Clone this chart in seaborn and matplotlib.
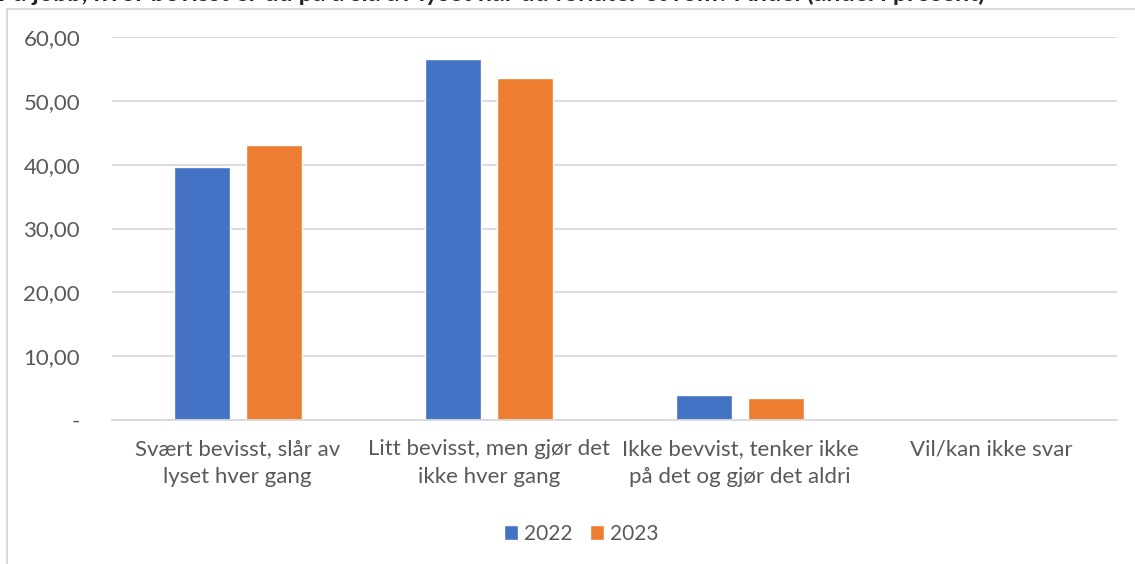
# andel som slår av lyset, 2022 mot 2023
import pandas as pd
import matplotlib.pyplot as plt
import matplotlib.ticker as mticker
from matplotlib.patches import Rectangle
import seaborn as sns

kategorier = [
    "Svært bevisst, slår av\nlyset hver gang",
    "Litt bevisst, men gjør det\nikke hver gang",
    "Ikke bevvist, tenker ikke\npå det og gjør det aldri",
    "Vil/kan ikke svar",
]
aar = ["2022", "2023"]
verdier_2022 = [39.6, 56.6, 3.9, 0.0]
verdier_2023 = [43.1, 53.5, 3.5, 0.0]
tittel = "På jobb, hvor bevisst er du på å slå av lyset når du forlater et rom? Andel (andel i prosent)"

df = pd.DataFrame({
    "kategori": kategorier * 2,
    "aar": [aar[0]] * 4 + [aar[1]] * 4,
    "andel": verdier_2022 + verdier_2023,
})

sns.set_theme(style="white")
plt.rcParams["font.family"] = ["Lato", "DejaVu Sans"]

fig = plt.figure(figsize=(11.35, 5.64), dpi=100)
ax = fig.add_axes([112 / 1135, 1 - 420 / 564, (1117 - 112) / 1135, (420 - 37) / 564])

sns.barplot(data=df, x="kategori", y="andel", hue="aar",
            palette=["#4472C4", "#ED7D31"], width=0.574, gap=0.222,
            saturation=1, ax=ax, legend=True)

ax.set_ylim(0, 60)
ax.set_xlim(-0.5, 3.5)
ax.set_yticks([0, 10, 20, 30, 40, 50, 60])
ax.yaxis.set_major_formatter(mticker.FuncFormatter(
    lambda v, p: "-" if v == 0 else f"{v:.2f}".replace(".", ",")))
ax.grid(axis="y", color="#d9d9d9", linewidth=1.3)
ax.set_axisbelow(True)
for s in ["top", "right", "left"]:
    ax.spines[s].set_visible(False)
ax.spines["bottom"].set_color("#d9d9d9")
ax.spines["bottom"].set_linewidth(1.3)
ax.tick_params(axis="y", length=0, pad=23, labelsize=16, labelcolor="#595959")
ax.tick_params(axis="x", length=0, pad=14, labelsize=16, labelcolor="#595959")
for t in ax.get_xticklabels():
    t.set_linespacing(1.45)
ax.set_xlabel("")
ax.set_ylabel("")

ax.legend(loc="center", bbox_to_anchor=(0.467, -0.297), ncol=2, frameon=False,
          fontsize=15, labelcolor="#595959", handlelength=0.67, handleheight=0.67,
          handletextpad=0.3, columnspacing=0.85)

# ramme rundt diagrammet
fig.patches.append(Rectangle((7 / 1135, -0.1), 1.2, 1 - 9 / 564 + 0.1,
                             transform=fig.transFigure, fill=False,
                             edgecolor="#d9d9d9", linewidth=1.3))
fig.text(-0.002, 1.012, tittel, fontsize=18, fontweight="bold", ha="left", va="center")

fig.savefig("out.png", dpi=100)
